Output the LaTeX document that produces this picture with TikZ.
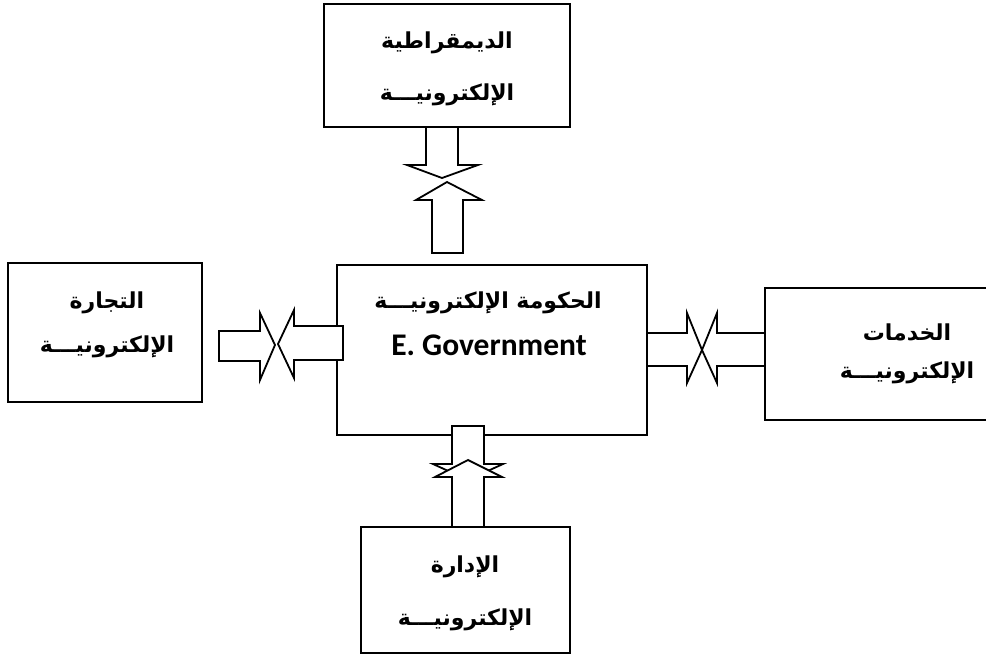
\documentclass[tikz,border=0pt]{standalone}
\usepackage{fontspec}
\TeXXeTstate=1
\newfontfamily\arabicfont[Script=Arabic]{DejaVu Sans}
\newfontfamily\latinfont{Carlito}
\begin{document}
\begin{tikzpicture}[x=1pt,y=-1pt,
  box/.style={draw, line width=2.2pt, inner sep=0pt},
  blockarrow/.style={draw, fill=white, line width=1.8pt, line join=miter},
  openarrow/.style={draw, line width=1.8pt, line join=miter},
  atxt/.style={font=\arabicfont\bfseries\fontsize{22}{26}\selectfont, inner sep=0pt},
  etxt/.style={font=\latinfont\bfseries\fontsize{31.5}{36}\selectfont, inner sep=0pt}]
\useasboundingbox (0,0) rectangle (986,654);
\begin{scope}
\clip (0,0) rectangle (986,654);
% boxes
\node[box, minimum width=246pt, minimum height=123pt] (topbox) at (447,65.5) {};
\node[box, minimum width=310pt, minimum height=170pt] (center) at (492,350) {};
\node[box, minimum width=194pt, minimum height=139pt] (leftbox) at (105,332.5) {};
\node[box, minimum width=284pt, minimum height=132pt] (rightbox) at (907,354) {};
\node[box, minimum width=209pt, minimum height=126pt] (botbox) at (465.5,590) {};
\end{scope}
% top arrows
\draw[blockarrow] (426,127) -- (426,165) -- (407,165) -- (442,178) -- (478,165) -- (458,165) -- (458,127) -- cycle;
\draw[blockarrow] (432,253) -- (432,200) -- (416,200) -- (447,182) -- (482,200) -- (463,200) -- (463,253) -- cycle;
% left arrows
\draw[blockarrow] (219,331) -- (260,331) -- (260,313) -- (275,345) -- (260,380) -- (260,361) -- (219,361) -- cycle;
\draw[blockarrow] (343,326) -- (294,326) -- (294,310) -- (278,344) -- (294,378) -- (294,360) -- (343,360) -- cycle;
% right arrows
\draw[openarrow] (647,333) -- (687,333) -- (687,313) -- (702,350) -- (687,383) -- (687,366) -- (647,366);
\draw[openarrow] (765,333) -- (717,333) -- (717,313) -- (702,350) -- (717,383) -- (717,366) -- (765,366);
% bottom arrows
\draw[blockarrow] (452,426) -- (452,464) -- (433,464) -- (468,480) -- (503,464) -- (484,464) -- (484,426) -- cycle;
\draw[blockarrow] (452,527) -- (452,477) -- (435,477) -- (468,460) -- (502,477) -- (484,477) -- (484,527) -- cycle;
% texts
\node[atxt] (t1) at (447,43) {\beginR الديمقراطية\endR};
\node[atxt] (t2) at (447,95) {\beginR الإلكترونيـــة\endR};
\node[atxt] (l1) at (107,303) {\beginR التجارة\endR};
\node[atxt] (l2) at (107,347) {\beginR الإلكترونيـــة\endR};
\node[atxt] (r1) at (907,332) {\beginR الخدمات\endR};
\node[atxt] (r2) at (907,373) {\beginR الإلكترونيـــة\endR};
\node[atxt] (b1) at (465,567) {\beginR الإدارة\endR};
\node[atxt] (b2) at (465,620) {\beginR الإلكترونيـــة\endR};
\node[atxt] (c1) at (488,303) {\beginR الحكومة الإلكترونيـــة\endR};
\node[etxt] (c2) at (489,345) {E. Government};
\end{tikzpicture}
\end{document}
